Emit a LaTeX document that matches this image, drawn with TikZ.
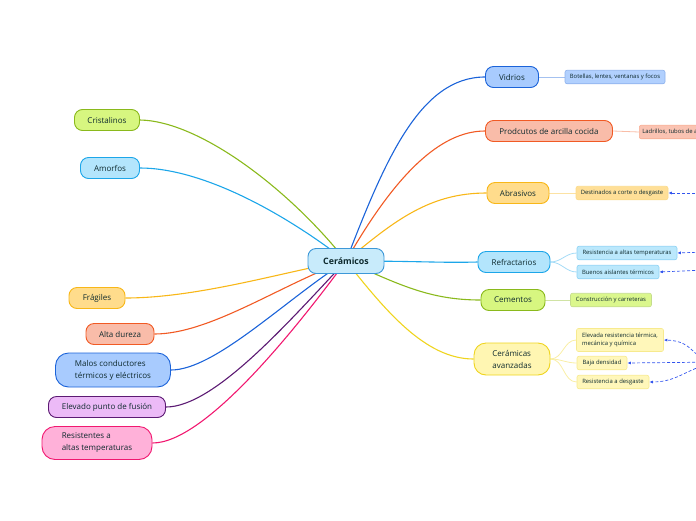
\documentclass[tikz,border=0pt]{standalone}
\usepackage{fontspec}
\setmainfont{Open Sans}
\usetikzlibrary{arrows.meta,backgrounds}
\definecolor{maptext}{HTML}{0E2A2E}
\definecolor{rootline}{HTML}{3D98D8}
\definecolor{rootfill}{HTML}{C8EBFB}
\definecolor{blueline}{HTML}{1B63D9}
\definecolor{bluefill}{HTML}{A8CBFE}
\definecolor{rustline}{HTML}{F15A24}
\definecolor{rustfill}{HTML}{F9BCA9}
\definecolor{amberline}{HTML}{F8B718}
\definecolor{amberfill}{HTML}{FFDC8C}
\definecolor{cyanline}{HTML}{1CA6E9}
\definecolor{cyanfill}{HTML}{B3E5FC}
\definecolor{limeline}{HTML}{8AB91C}
\definecolor{limefill}{HTML}{D7F680}
\definecolor{yellowline}{HTML}{EFD41E}
\definecolor{yellowfill}{HTML}{FFF6B2}
\definecolor{purpleline}{HTML}{5C1A73}
\definecolor{purplefill}{HTML}{ECBAF7}
\definecolor{pinkline}{HTML}{F11870}
\definecolor{pinkfill}{HTML}{FFB1D9}
\definecolor{relblue}{HTML}{3355EE}
\tikzset{
  root/.style={draw=rootline,fill=rootfill,rounded corners=8pt,line width=0.9pt,
    minimum width=76pt,minimum height=25pt,text=maptext,
    font=\fontsize{8.8}{10}\selectfont\bfseries},
  topic/.style={draw=#1line,fill=#1fill,rounded corners=8pt,line width=0.9pt,
    minimum height=21pt,inner xsep=6pt,text=maptext,align=left,
    font=\fontsize{8}{12}\selectfont},
  leaf/.style={draw=#1line!50,fill=#1fill!90,rounded corners=2pt,line width=0.6pt,
    minimum height=13.5pt,inner xsep=3pt,text=maptext,align=left,
    font=\fontsize{5.9}{8.5}\selectfont},
  branch/.style={draw=#1line,line width=1.1pt},
  twig/.style={draw=#1line!40,line width=0.8pt},
  relation/.style={draw=relblue,dashed,dash pattern=on 3pt off 2pt,line width=0.7pt,
    -{Latex[length=3.5pt,width=3pt]}}
}
\begin{document}
\begin{tikzpicture}[x=1pt,y=-1pt]
  \useasboundingbox (0,0) rectangle (696,520);
  \node[root] (cer) at (346,261) {Cerámicos};
  % right branches
  \node[topic=blue,minimum width=53pt] (vid) at (512,77) {Vidrios};
  \node[topic=rust,minimum width=127pt] (pro) at (549,131) {Prodcutos de arcilla cocida};
  \node[topic=amber,minimum width=62pt] (abr) at (518,193) {Abrasivos};
  \node[topic=cyan,minimum width=72pt] (ref) at (514,262) {Refractarios};
  \node[topic=lime,minimum width=64pt] (cem) at (513,300) {Cementos};
  \node[topic=yellow,minimum width=76pt,minimum height=32pt,rounded corners=12pt] (ava) at (512,359) {Cerámicas\\avanzadas};
  % left branches
  \node[topic=lime,minimum width=65pt] (cri) at (107,120) {Cristalinos};
  \node[topic=cyan,minimum width=59pt] (amo) at (110,168) {Amorfos};
  \node[topic=amber,minimum width=56pt] (fra) at (97,298) {Frágiles};
  \node[topic=rust,minimum width=68pt] (alt) at (120,334) {Alta dureza};
  \node[topic=blue,minimum width=115pt,minimum height=34pt,rounded corners=13pt] (mal) at (113,370) {Malos conductores\\térmicos y eléctricos};
  \node[topic=purple,minimum width=117pt] (ele) at (107,407) {Elevado punto de fusión};
  \node[topic=pink,minimum width=110pt,minimum height=33pt,rounded corners=13pt] (res) at (97,443) {Resistentes a\\altas temperaturas};
  % leaves
  \node[leaf=blue,minimum width=100pt] (bot) at (615,77) {Botellas, lentes, ventanas y focos};
  \node[leaf=rust,anchor=west] (lad) at (639,132) {Ladrillos, tubos de arcilla};
  \node[leaf=amber,minimum width=92pt] (des) at (622,193) {Destinados a corte o desgaste};
  \node[leaf=cyan,minimum width=100pt] (rat) at (627,253) {Resistencia a altas temperaturas};
  \node[leaf=cyan,minimum width=82pt] (bue) at (618,272) {Buenos aislantes térmicos};
  \node[leaf=lime,minimum width=81pt] (con) at (611,300) {Construcción y carreteras};
  \node[leaf=yellow,minimum width=87pt,minimum height=23pt] (erm) at (620,340) {Elevada resistencia térmica,\\mecánica y química};
  \node[leaf=yellow,minimum width=50pt] (baj) at (602,363) {Baja densidad};
  \node[leaf=yellow,minimum width=72pt] (rde) at (613,382) {Resistencia a desgaste};
  \begin{scope}[on background layer]
    \draw[branch=blue] (cer.center) .. controls (385,160) and (420,77) .. (vid.west);
    \draw[branch=rust] (cer.center) .. controls (395,175) and (440,131) .. (pro.west);
    \draw[branch=amber] (cer.center) .. controls (395,220) and (430,193) .. (abr.west);
    \draw[branch=cyan] (cer.center) .. controls (420,261) and (440,263) .. (ref.west);
    \draw[branch=lime] (cer.center) .. controls (400,285) and (430,300) .. (cem.west);
    \draw[branch=yellow] (cer.center) .. controls (385,310) and (425,359) .. (ava.west);
    \draw[branch=lime] (cri.east) .. controls (200,121) and (290,190) .. (cer.center);
    \draw[branch=cyan] (amo.east) .. controls (200,168) and (280,210) .. (cer.center);
    \draw[branch=amber] (fra.east) .. controls (200,298) and (290,270) .. (cer.center);
    \draw[branch=rust] (alt.east) .. controls (210,334) and (280,285) .. (cer.center);
    \draw[branch=blue] (mal.east) .. controls (215,370) and (285,300) .. (cer.center);
    \draw[branch=purple] (ele.east) .. controls (215,407) and (290,320) .. (cer.center);
    \draw[branch=pink] (res.east) .. controls (205,443) and (295,330) .. (cer.center);
    % twigs
    \draw[twig=blue] (vid.east) -- (bot.west);
    \draw[twig=rust] (pro.east) -- (lad.west);
    \draw[twig=amber] (abr.east) -- (des.west);
    \draw[twig=lime] (cem.east) -- (con.west);
    \foreach \t in {rat,bue}
      \draw[twig=cyan] (ref.east) to[out=0,in=180] (\t.west);
    \foreach \t in {erm,baj,rde}
      \draw[twig=yellow] (ava.east) to[out=0,in=180] (\t.west);
  \end{scope}
  % relations from off the page
  \foreach \t/\y in {des/193,rat/252,bue/270} {
    \coordinate (off\t) at (705,\y);
    \draw[relation] (off\t) -- (\t.east);
  }
  \coordinate (offava) at (720,362);
  \draw[relation] (offava) .. controls (690,362) and (697,341) .. (erm.east);
  \draw[relation] (offava) -- (baj.east);
  \draw[relation] (offava) .. controls (688,366) and (680,382) .. (rde.east);
\end{tikzpicture}
\end{document}
